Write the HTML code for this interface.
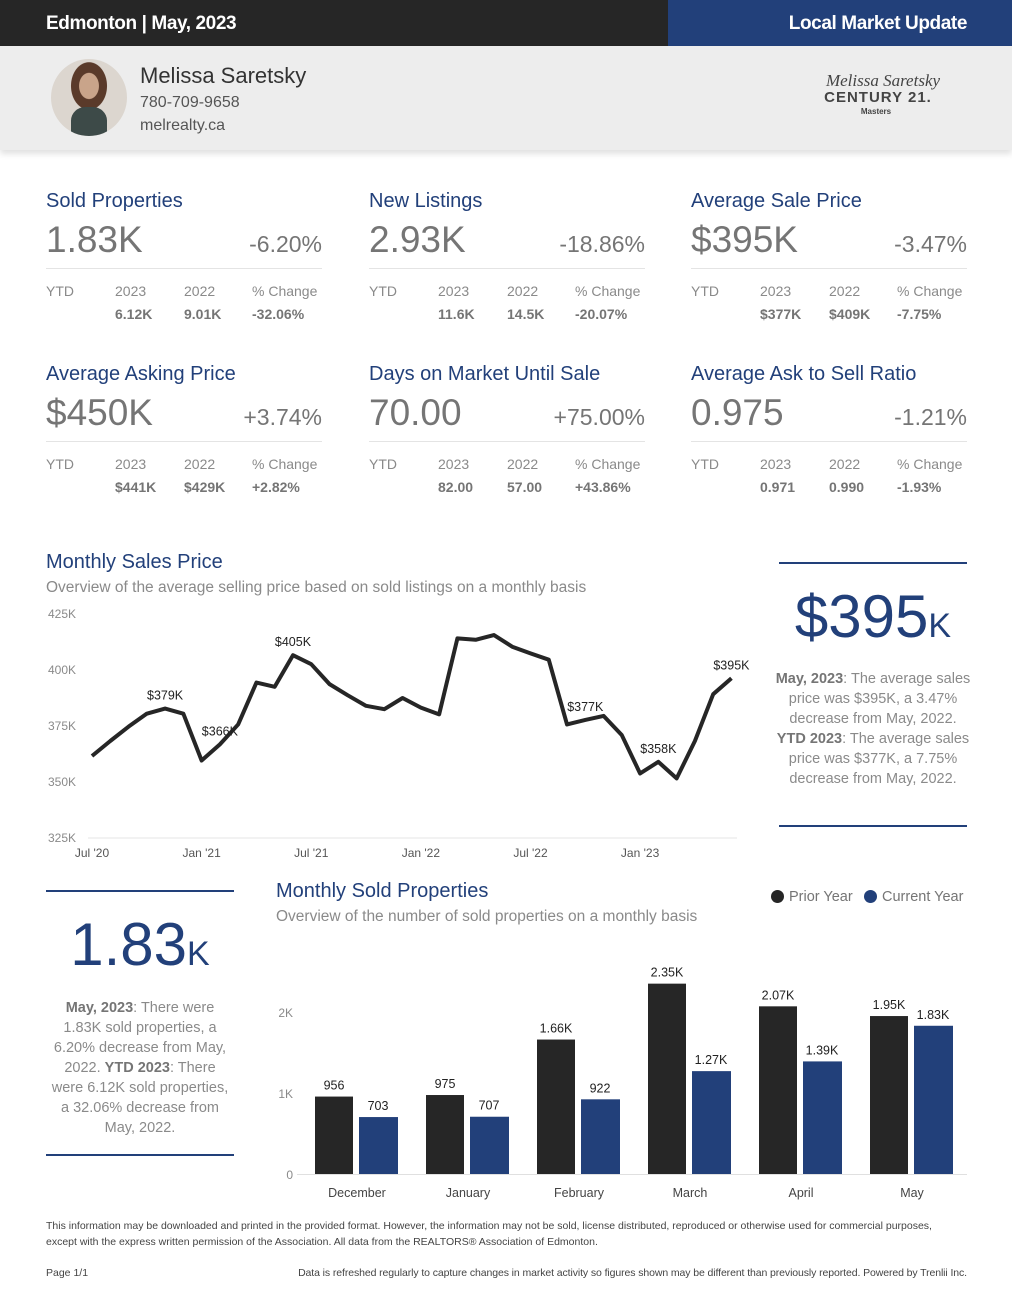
<!DOCTYPE html>
<html><head><meta charset="utf-8"><style>
*{margin:0;padding:0;box-sizing:border-box}
body{width:1012px;height:1312px;position:relative;background:#fff;font-family:"Liberation Sans",sans-serif;color:#757575;overflow:hidden}
.a{position:absolute;white-space:nowrap}
.kpi{position:absolute;width:276px;height:140px}
.kpi .t{position:absolute;left:0;top:0;font-size:20px;line-height:26px;color:#22407a}
.kpi .b{position:absolute;left:0;top:34px;font-size:37px;line-height:36px;color:#757575}
.kpi .p{position:absolute;right:0;top:42px;font-size:23px;line-height:28px;color:#757575}
.kpi .hr{position:absolute;left:0;top:80px;width:276px;height:1px;background:#e4e4e4}
.kpi .l{position:absolute;top:95px;font-size:14px;line-height:16px;color:#8a8a8a}
.kpi .v{position:absolute;top:118px;font-size:14px;line-height:16px;font-weight:bold;color:#757575}
.blue{color:#22407a}
.line{position:absolute;height:2px;background:#22407a}
.txt{position:absolute;text-align:center;font-size:14.5px;line-height:20px;color:#8a8a8a;white-space:normal}
.txt b{color:#757575}
</style></head><body>
<div class="a" style="left:0;top:0;width:1012px;height:46px;background:#262626"></div>
<div class="a" style="left:668px;top:0;width:344px;height:46px;background:#22407a"></div>
<div class="a" style="left:46px;top:11px;font-size:19px;letter-spacing:-0.4px;font-weight:bold;color:#fff;line-height:26px">Edmonton | May, 2023</div>
<div class="a" style="right:45px;top:11px;font-size:19px;letter-spacing:-0.4px;font-weight:bold;color:#fff;line-height:26px">Local Market Update</div>
<div class="a" style="left:0;top:46px;width:1012px;height:104px;background:#ededed;box-shadow:0 4px 6px rgba(0,0,0,0.12)"></div>
<div class="a" style="left:51px;top:59px;width:76px;height:77px;border-radius:50%;background:radial-gradient(ellipse at 50% 35%,#c9a48a 0 18%,#5a3a2a 19% 33%,#dcd6cf 34%);overflow:hidden"><div style="position:absolute;left:20px;top:48px;width:36px;height:34px;border-radius:40% 40% 0 0;background:#3d4a48"></div></div>
<div class="a" style="left:140px;top:62px;font-size:22px;color:#333;line-height:28px">Melissa Saretsky</div>
<div class="a" style="left:140px;top:93px;font-size:16px;color:#555;line-height:20px">780-709-9658</div>
<div class="a" style="left:140px;top:116px;font-size:16px;color:#555;line-height:20px">melrealty.ca</div>
<div class="a" style="left:816px;top:72px;width:134px;height:52px;text-align:center">
<div style="font-family:'Liberation Serif',serif;font-style:italic;font-size:17px;color:#444;line-height:18px">Melissa Saretsky</div>
<div style="font-size:15px;font-weight:bold;color:#444;letter-spacing:1px;line-height:16px;margin-left:-10px">CENTURY 21.</div>
<div style="font-size:8px;font-weight:bold;color:#444;line-height:12px;margin-left:-14px">Masters</div></div>

<div class="kpi" style="left:46px;top:188px"><div class="t">Sold Properties</div><div class="b">1.83K</div><div class="p">-6.20%</div><div class="hr"></div><div class="l" style="left:0">YTD</div><div class="l" style="left:69px">2023</div><div class="l" style="left:138px">2022</div><div class="l" style="left:206px">% Change</div><div class="v" style="left:69px">6.12K</div><div class="v" style="left:138px">9.01K</div><div class="v" style="left:206px">-32.06%</div></div>
<div class="kpi" style="left:369px;top:188px"><div class="t">New Listings</div><div class="b">2.93K</div><div class="p">-18.86%</div><div class="hr"></div><div class="l" style="left:0">YTD</div><div class="l" style="left:69px">2023</div><div class="l" style="left:138px">2022</div><div class="l" style="left:206px">% Change</div><div class="v" style="left:69px">11.6K</div><div class="v" style="left:138px">14.5K</div><div class="v" style="left:206px">-20.07%</div></div>
<div class="kpi" style="left:691px;top:188px"><div class="t">Average Sale Price</div><div class="b">$395K</div><div class="p">-3.47%</div><div class="hr"></div><div class="l" style="left:0">YTD</div><div class="l" style="left:69px">2023</div><div class="l" style="left:138px">2022</div><div class="l" style="left:206px">% Change</div><div class="v" style="left:69px">$377K</div><div class="v" style="left:138px">$409K</div><div class="v" style="left:206px">-7.75%</div></div>
<div class="kpi" style="left:46px;top:361px"><div class="t">Average Asking Price</div><div class="b">$450K</div><div class="p">+3.74%</div><div class="hr"></div><div class="l" style="left:0">YTD</div><div class="l" style="left:69px">2023</div><div class="l" style="left:138px">2022</div><div class="l" style="left:206px">% Change</div><div class="v" style="left:69px">$441K</div><div class="v" style="left:138px">$429K</div><div class="v" style="left:206px">+2.82%</div></div>
<div class="kpi" style="left:369px;top:361px"><div class="t">Days on Market Until Sale</div><div class="b">70.00</div><div class="p">+75.00%</div><div class="hr"></div><div class="l" style="left:0">YTD</div><div class="l" style="left:69px">2023</div><div class="l" style="left:138px">2022</div><div class="l" style="left:206px">% Change</div><div class="v" style="left:69px">82.00</div><div class="v" style="left:138px">57.00</div><div class="v" style="left:206px">+43.86%</div></div>
<div class="kpi" style="left:691px;top:361px"><div class="t">Average Ask to Sell Ratio</div><div class="b">0.975</div><div class="p">-1.21%</div><div class="hr"></div><div class="l" style="left:0">YTD</div><div class="l" style="left:69px">2023</div><div class="l" style="left:138px">2022</div><div class="l" style="left:206px">% Change</div><div class="v" style="left:69px">0.971</div><div class="v" style="left:138px">0.990</div><div class="v" style="left:206px">-1.93%</div></div>

<div class="a" style="left:46px;top:549px;font-size:20px;line-height:26px;color:#22407a">Monthly Sales Price</div>
<div class="a" style="left:46px;top:578px;font-size:15.5px;line-height:20px;color:#8a8a8a">Overview of the average selling price based on sold listings on a monthly basis</div>
<svg class="a" style="left:0;top:0" width="1012" height="880" id="lc"></svg>

<div class="line" style="left:779px;top:562px;width:188px"></div>
<div class="a blue" style="left:779px;top:584px;width:188px;text-align:center;font-size:60px;line-height:66px">$395<span style="font-size:34px">K</span></div>
<div class="txt" style="left:773px;top:669px;width:200px"><b>May, 2023</b>: The average sales price was $395K, a 3.47% decrease from May, 2022. <b>YTD 2023</b>: The average sales price was $377K, a 7.75% decrease from May, 2022.</div>
<div class="line" style="left:779px;top:825px;width:188px"></div>

<div class="line" style="left:46px;top:890px;width:188px"></div>
<div class="a blue" style="left:46px;top:912px;width:188px;text-align:center;font-size:60px;line-height:66px">1.83<span style="font-size:34px">K</span></div>
<div class="txt" style="left:48px;top:998px;width:184px"><b>May, 2023</b>: There were 1.83K sold properties, a 6.20% decrease from May, 2022. <b>YTD 2023</b>: There were 6.12K sold properties, a 32.06% decrease from May, 2022.</div>
<div class="line" style="left:46px;top:1154px;width:188px"></div>

<div class="a" style="left:276px;top:878px;font-size:20px;line-height:26px;color:#22407a">Monthly Sold Properties</div>
<div class="a" style="left:276px;top:907px;font-size:15.5px;line-height:20px;color:#8a8a8a">Overview of the number of sold properties on a monthly basis</div>
<div class="a" style="left:771px;top:888px;font-size:14.5px;line-height:18px;color:#757575"><span style="display:inline-block;width:13px;height:13px;border-radius:50%;background:#262626;vertical-align:-2px;margin-right:5px"></span>Prior Year</div>
<div class="a" style="left:864px;top:888px;font-size:14.5px;line-height:18px;color:#757575"><span style="display:inline-block;width:13px;height:13px;border-radius:50%;background:#22407a;vertical-align:-2px;margin-right:5px"></span>Current Year</div>
<svg class="a" style="left:0;top:0" width="1012" height="1312" id="bc"></svg>

<div class="a" style="left:46px;top:1218px;width:905px;white-space:normal;font-size:10.5px;line-height:16px;color:#444">This information may be downloaded and printed in the provided format. However, the information may not be sold, license distributed, reproduced or otherwise used for commercial purposes, except with the express written permission of the Association. All data from the REALTORS® Association of Edmonton.</div>
<div class="a" style="left:46px;top:1266px;font-size:10.5px;line-height:14px;color:#444">Page 1/1</div>
<div class="a" style="right:45px;top:1266px;font-size:10.5px;line-height:14px;color:#444;letter-spacing:-0.1px">Data is refreshed regularly to capture changes in market activity so figures shown may be different than previously reported. Powered by Trenlii Inc.</div>

<script>
const priceValues=[361.6,368.3,374.7,380.5,382.8,380.5,359.6,366.8,375.7,394.4,392.5,406.6,402.6,393.7,388.7,384,382.5,387.5,383.2,380.2,414.1,413.5,415.6,410.4,407.4,404.6,375.7,377.7,379.5,370.9,353.8,359,351.6,368.3,389.2,396.3];
const priceTickValues=[325,350,375,400,425];
const priceTickLabels=['325K','350K','375K','400K','425K'];
const monthTickIndex=[0,6,12,18,24,30];
const monthTickLabels=["Jul '20","Jan '21","Jul '21","Jan '22","Jul '22","Jan '23"];
const annotIndex=[4,7,11,27,31,35];
const annotLabels=['$379K','$366K','$405K','$377K','$358K','$395K'];

const barCategories=['December','January','February','March','April','May'];
const priorYear=[956,975,1660,2350,2070,1950];
const currentYear=[703,707,922,1270,1390,1830];
const priorLabels=['956','975','1.66K','2.35K','2.07K','1.95K'];
const currentLabels=['703','707','922','1.27K','1.39K','1.83K'];
const barTickValues=[0,1000,2000];
const barTickLabels=['0','1K','2K'];

const NS='http://www.w3.org/2000/svg';
function mk(p,tag,at,txt){const e=document.createElementNS(NS,tag);for(const k in at)e.setAttribute(k,at[k]);if(txt!=null)e.textContent=txt;p.appendChild(e);return e;}
const lc=document.getElementById('lc');
const lx=i=>92+i*18.27;
const ly=v=>838-(v-325)*2.24;
priceTickValues.forEach((v,i)=>{const t=mk(lc,'text',{x:76,y:ly(v)+4,'text-anchor':'end','font-size':12,fill:'#8a8a8a','font-family':'Liberation Sans'},priceTickLabels[i]);

});
const ax=mk(lc,'line',{x1:88,x2:737,y1:ly(325),y2:ly(325),stroke:'#e6e6e6','stroke-width':1});


monthTickIndex.forEach((m,i)=>{const t=mk(lc,'text',{x:lx(m),y:857,'text-anchor':'middle','font-size':12,fill:'#555','font-family':'Liberation Sans'},monthTickLabels[i]);

});
const path=mk(lc,'polyline',{points:priceValues.map((v,i)=>lx(i)+','+ly(v)).join(' '),fill:'none',stroke:'#262626','stroke-width':4,'stroke-linejoin':'round'});


annotIndex.forEach((m,i)=>{const t=mk(lc,'text',{x:lx(m),y:ly(priceValues[m])-9,'text-anchor':'middle','font-size':12.5,fill:'#222','font-family':'Liberation Sans'},annotLabels[i]);

});

const bc=document.getElementById('bc');
const bx=i=>356+i*111;
const by=v=>1174-v*0.081;
barTickValues.forEach((v,i)=>{const t=mk(bc,'text',{x:293,y:by(v)+5,'text-anchor':'end','font-size':12,fill:'#8a8a8a','font-family':'Liberation Sans'},barTickLabels[i]);

});
const bax=mk(bc,'line',{x1:297,x2:967,y1:1174.5,y2:1174.5,stroke:'#e0e0e0','stroke-width':1});


barCategories.forEach((c,i)=>{
const p=mk(bc,'rect',{x:bx(i)-41,y:by(priorYear[i]),width:38,height:priorYear[i]*0.081,fill:'#262626'});


const q=mk(bc,'rect',{x:bx(i)+3,y:by(currentYear[i]),width:39,height:currentYear[i]*0.081,fill:'#22407a'});


const pl=mk(bc,'text',{x:bx(i)-22,y:by(priorYear[i])-7,'text-anchor':'middle','font-size':12.5,fill:'#222','font-family':'Liberation Sans'},priorLabels[i]);


const cl=mk(bc,'text',{x:bx(i)+22,y:by(currentYear[i])-7,'text-anchor':'middle','font-size':12.5,fill:'#222','font-family':'Liberation Sans'},currentLabels[i]);


const xl=mk(bc,'text',{x:bx(i)+1,y:1197,'text-anchor':'middle','font-size':12.5,fill:'#444','font-family':'Liberation Sans'},c);


});
</script>
</body></html>
